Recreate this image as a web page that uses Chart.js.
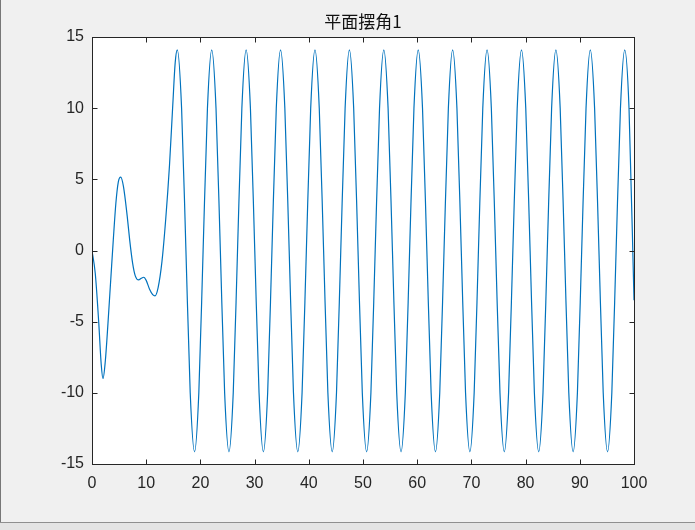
<!DOCTYPE html>
<html>
<head>
<meta charset="utf-8">
<title>平面摆角1</title>
<script src="https://cdn.jsdelivr.net/npm/chart.js@4.4.0/dist/chart.umd.min.js"></script>
<style>
  html, body { margin: 0; padding: 0; background: #f0f0f0; }
  #wrap { position: relative; width: 695px; height: 530px; overflow: hidden; }
  #frameLeft { position: absolute; left: 0; top: 0; width: 1px; height: 530px; background: #777; }
  #frameBottom { position: absolute; left: 0; top: 522px; width: 695px; height: 8px; background: #e4e4e4; border-top: 1px solid #8f8f8f; }
  #chart { position: absolute; left: 0; top: 0; }
</style>
</head>
<body>
<div id="wrap">
  <div id="frameLeft"></div>
  <div id="frameBottom"></div>
  <canvas id="chart" width="695" height="530"></canvas>
</div>
<script>
// Tiêu đề và trục
const chartTitle = '平面摆角1';
const xTicks = [0, 10, 20, 30, 40, 50, 60, 70, 80, 90, 100];
const yTicks = [-15, -10, -5, 0, 5, 10, 15];

// Thời gian
const timeValues = [
  0, 0.6, 1.25, 1.7, 2.03, 2.45, 2.95, 3.5, 3.93, 4.4, 4.85, 5.3, 5.8, 6.5, 6.95,
  7.5, 8.0, 8.6, 9.1, 9.55, 10.0, 10.6, 11.2, 11.62, 12.2, 12.9, 13.6, 14.3, 14.9, 15.35,
  15.74, 16.53, 17.33, 18.12, 18.92, 19.71, 20.50, 21.30,
  22.09, 22.88, 23.68, 24.47, 25.27, 26.06, 26.85, 27.65,
  28.44, 29.23, 30.03, 30.82, 31.62, 32.41, 33.20, 34.00,
  34.79, 35.58, 36.38, 37.17, 37.97, 38.76, 39.55, 40.35,
  41.14, 41.93, 42.73, 43.52, 44.32, 45.11, 45.90, 46.70,
  47.49, 48.28, 49.08, 49.87, 50.67, 51.46, 52.25, 53.05,
  53.84, 54.63, 55.43, 56.22, 57.02, 57.81, 58.60, 59.40,
  60.19, 60.98, 61.78, 62.57, 63.37, 64.16, 64.95, 65.75,
  66.54, 67.33, 68.13, 68.92, 69.72, 70.51, 71.30, 72.10,
  72.89, 73.68, 74.48, 75.27, 76.07, 76.86, 77.65, 78.45,
  79.24, 80.03, 80.83, 81.62, 82.42, 83.21, 84.00, 84.80,
  85.59, 86.38, 87.18, 87.97, 88.77, 89.56, 90.35, 91.15,
  91.94, 92.73, 93.53, 94.32, 95.12, 95.91, 96.70, 97.50,
  98.29, 99.08, 100
];

// Góc lắc
const angleValues = [
  0, -1.6, -5.1, -8.0, -9.0, -7.8, -5.1, -1.8, 0.75, 3.3, 4.8, 5.15, 4.5, 2.4, 0.75,
  -0.9, -1.8, -2.07, -1.95, -1.88, -2.1, -2.7, -3.1, -3.19, -2.6, -0.8, 2.2, 6.0, 10.2, 13.2,
  14.1, 10, 0, -10, -14.15, -10, 0, 10,
  14.1, 10, 0, -10, -14.15, -10, 0, 10,
  14.1, 10, 0, -10, -14.15, -10, 0, 10,
  14.1, 10, 0, -10, -14.15, -10, 0, 10,
  14.1, 10, 0, -10, -14.15, -10, 0, 10,
  14.1, 10, 0, -10, -14.15, -10, 0, 10,
  14.1, 10, 0, -10, -14.15, -10, 0, 10,
  14.1, 10, 0, -10, -14.15, -10, 0, 10,
  14.1, 10, 0, -10, -14.15, -10, 0, 10,
  14.1, 10, 0, -10, -14.15, -10, 0, 10,
  14.1, 10, 0, -10, -14.15, -10, 0, 10,
  14.1, 10, 0, -10, -14.15, -10, 0, 10,
  14.1, 10, 0, -10, -14.15, -10, 0, 10,
  14.1, 10, -3.5
];

const points = timeValues.map((t, i) => ({ x: t, y: angleValues[i] }));

const axisColor = '#262626';
const tickFont = { family: "'Liberation Sans', Arial, sans-serif", size: 16 };

// Nền trắng, khung hộp và vạch chia hướng vào trong (kiểu MATLAB)
const axesBox = {
  id: 'axesBox',
  beforeDraw(chart) {
    const { ctx, chartArea: a } = chart;
    ctx.save();
    ctx.fillStyle = '#ffffff';
    ctx.fillRect(a.left, a.top, a.right - a.left, a.bottom - a.top);
    ctx.restore();
  },
  afterDraw(chart) {
    const { ctx, chartArea: a, scales } = chart;
    const L = Math.round(a.left) + 0.5, R = Math.round(a.right) + 0.5;
    const T = Math.round(a.top) + 0.5, B = Math.round(a.bottom) + 0.5;
    const len = 5;
    ctx.save();
    ctx.strokeStyle = axisColor;
    ctx.lineWidth = 1;
    ctx.strokeRect(L, T, R - L, B - T);
    ctx.beginPath();
    xTicks.forEach(v => {
      const px = Math.round(scales.x.getPixelForValue(v)) + 0.5;
      ctx.moveTo(px, B); ctx.lineTo(px, B - len);
      ctx.moveTo(px, T); ctx.lineTo(px, T + len);
    });
    yTicks.forEach(v => {
      const py = Math.round(scales.y.getPixelForValue(v)) + 0.5;
      ctx.moveTo(L, py); ctx.lineTo(L + len, py);
      ctx.moveTo(R, py); ctx.lineTo(R - len, py);
    });
    ctx.stroke();
    ctx.restore();
  }
};

const chart = new Chart(document.getElementById('chart').getContext('2d'), {
  type: 'line',
  data: {
    datasets: [{
      data: points,
      borderColor: '#0072BD',
      borderWidth: 1.2,
      pointRadius: 0,
      cubicInterpolationMode: 'monotone',
      fill: false
    }]
  },
  options: {
    responsive: false,
    animation: false,
    devicePixelRatio: 1,
    layout: { padding: { left: 0, right: 61, top: 0, bottom: 0 } },
    plugins: {
      legend: { display: false },
      tooltip: { enabled: false },
      title: {
        display: true,
        text: chartTitle,
        fullSize: false,
        color: '#111111',
        font: { family: "'Noto Sans CJK SC', sans-serif", size: 17, weight: 'normal', lineHeight: '20px' },
        padding: { top: 12, bottom: 5 }
      }
    },
    scales: {
      x: {
        type: 'linear',
        min: 0,
        max: 100,
        afterFit: (scale) => { scale.height = 66; },
        afterBuildTicks: (scale) => { scale.ticks = xTicks.map(v => ({ value: v })); },
        grid: { display: false, drawTicks: false },
        border: { display: false },
        ticks: { color: axisColor, font: tickFont, padding: 10, maxRotation: 0, autoSkip: false }
      },
      y: {
        type: 'linear',
        min: -15,
        max: 15,
        afterFit: (scale) => { scale.width = 92; },
        afterBuildTicks: (scale) => { scale.ticks = yTicks.map(v => ({ value: v })); },
        grid: { display: false, drawTicks: false },
        border: { display: false },
        ticks: { color: axisColor, font: tickFont, padding: 8, autoSkip: false }
      }
    }
  },
  plugins: [axesBox]
});
</script>
</body>
</html>
